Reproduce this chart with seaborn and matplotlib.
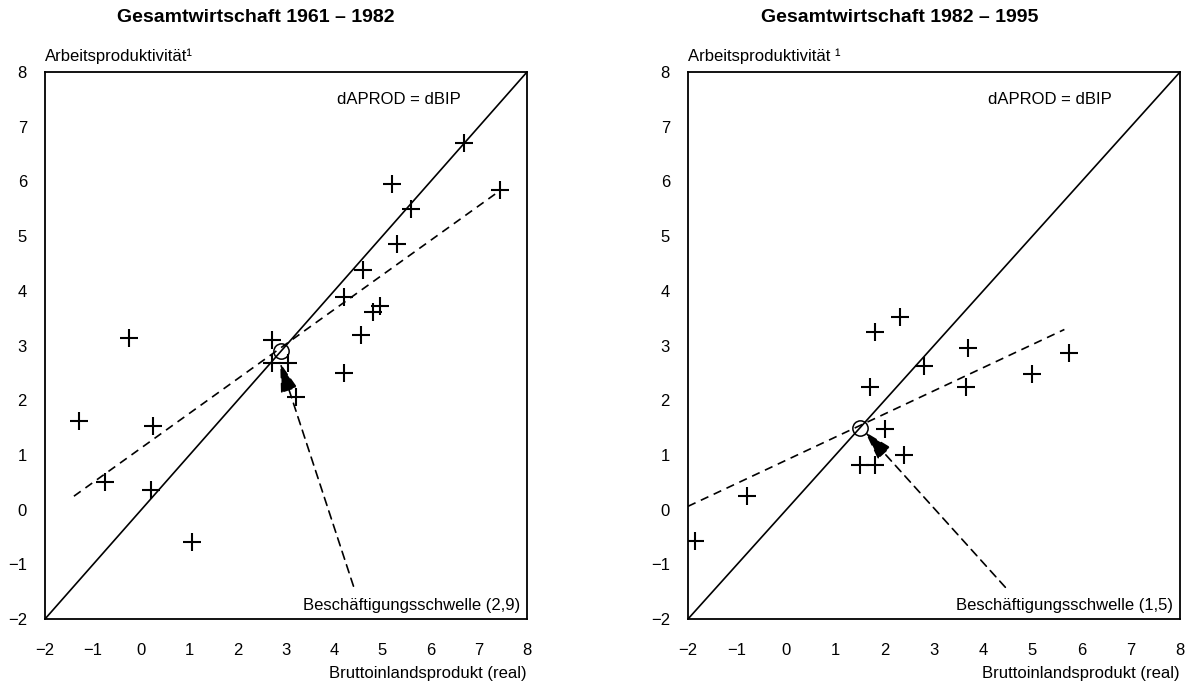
import numpy as np
import seaborn as sns
import matplotlib.pyplot as plt

# Daten: jaehrliche Veraenderungsraten (in %)
bip_6182 = [6.7, 5.2, 5.6, 7.45, 5.3, 4.6, 4.2, 4.95, 4.8, 4.55, -0.25,
            2.7, 2.7, 3.05, 4.2, 3.2, -1.3, 0.25, -0.75, 0.2, 1.05]
aprod_6182 = [6.7, 5.95, 5.5, 5.85, 4.85, 4.38, 3.88, 3.72, 3.62, 3.2, 3.14,
              3.1, 2.68, 2.68, 2.5, 2.05, 1.62, 1.52, 0.5, 0.36, -0.6]

bip_8295 = [2.3, 1.8, 3.7, 2.8, 1.7, 5.75, 5.0, 3.65, 2.0, 2.4, 1.5, 1.8, -0.8, -1.85]
aprod_8295 = [3.52, 3.24, 2.96, 2.63, 2.24, 2.87, 2.47, 2.24, 1.47, 1.0, 0.82, 0.82, 0.25, -0.58]

# Regressionsgeraden (Achsenabschnitt, Steigung, x-Bereich)
fit_6182 = (1.13, 0.632, [-1.4, 7.45])
fit_8295 = (0.905, 0.4226, [-2.0, 5.65])

# Beschaeftigungsschwelle
schwelle = [2.9, 1.5]
# Pfeil: Start und Spitze
pfeil_6182 = ((4.4, -1.4), (2.88, 2.68))
pfeil_8295 = ((4.45, -1.42), (1.6, 1.42))

achse = [-2, 8]
titel = ['Gesamtwirtschaft 1961 – 1982', 'Gesamtwirtschaft 1982 – 1995']
ylab = ['Arbeitsproduktivität¹', 'Arbeitsproduktivität ¹']

sns.set_theme(style='white', rc={'text.color': 'black', 'xtick.color': 'black',
                                 'ytick.color': 'black', 'axes.labelcolor': 'black'})
plt.rcParams['font.family'] = ['Liberation Sans', 'DejaVu Sans']
fam = ['Liberation Sans', 'DejaVu Sans']

fig = plt.figure(figsize=(11.98, 6.87), dpi=100)
ax1 = fig.add_axes([45/1198, 68/687, 482/1198, 547/687])
ax2 = fig.add_axes([688/1198, 68/687, 492/1198, 547/687])

panels = [(ax1, bip_6182, aprod_6182, fit_6182, schwelle[0], pfeil_6182, '(2,9)'),
          (ax2, bip_8295, aprod_8295, fit_8295, schwelle[1], pfeil_8295, '(1,5)')]

for i, (ax, x, y, fit, s, pf, lab) in enumerate(panels):
    # 45-Grad-Linie dAPROD = dBIP
    sns.lineplot(x=achse, y=achse, ax=ax, color='black', linewidth=1.2)
    # Regressionsgerade
    xf = np.array(fit[2])
    sns.lineplot(x=xf, y=fit[0] + fit[1]*xf, ax=ax, color='black',
                 linewidth=1.2, linestyle=(0, (5, 3.5)))
    # Punkte
    sns.scatterplot(x=x, y=y, ax=ax, marker='+', s=170, color='black',
                    linewidth=1.5, zorder=3)
    ax.plot([s], [s], marker='o', markersize=11, markerfacecolor='none',
            markeredgecolor='black', markeredgewidth=1.1, zorder=4)
    # Pfeil
    ax.annotate('', xy=pf[1], xytext=pf[0],
                arrowprops=dict(arrowstyle='-|>,head_length=1.5,head_width=0.45',
                                linestyle=(0, (5, 3.5)), color='black', lw=1.2,
                                shrinkA=0, shrinkB=0))
    ax.text(6.62, 7.5, 'dAPROD = dBIP', ha='right', va='center', fontsize=12,
            family=fam, color='black')
    ax.text(7.85, -1.76, 'Beschäftigungsschwelle ' + lab, ha='right',
            va='center', fontsize=12, family=fam, color='black')

    ax.set_xlim(achse)
    ax.set_ylim(achse)
    ax.set_xticks(range(-2, 9))
    ax.set_yticks(range(-2, 9))
    ax.tick_params(axis='both', length=0, labelsize=12, labelcolor='black')
    ax.tick_params(axis='x', pad=17)
    ax.tick_params(axis='y', pad=13)
    for sp in ax.spines.values():
        sp.set_color('black')
        sp.set_linewidth(1.3)
    ax.set_xlabel('')
    ax.set_ylabel('')
    ax.text(0, 1.029, ylab[i], transform=ax.transAxes, ha='left', va='center',
            fontsize=12, family=fam, color='black')
    ax.text(1.0, -0.1, 'Bruttoinlandsprodukt (real)', transform=ax.transAxes,
            ha='right', va='center', fontsize=12, family=fam, color='black')

fig.text(256/1198, 1 - 18/687, titel[0], ha='center', va='center',
         fontsize=14, fontweight='bold', family=fam, color='black')
fig.text(900/1198, 1 - 18/687, titel[1], ha='center', va='center',
         fontsize=14, fontweight='bold', family=fam, color='black')

fig.savefig('out.png', dpi=100, facecolor='white')
